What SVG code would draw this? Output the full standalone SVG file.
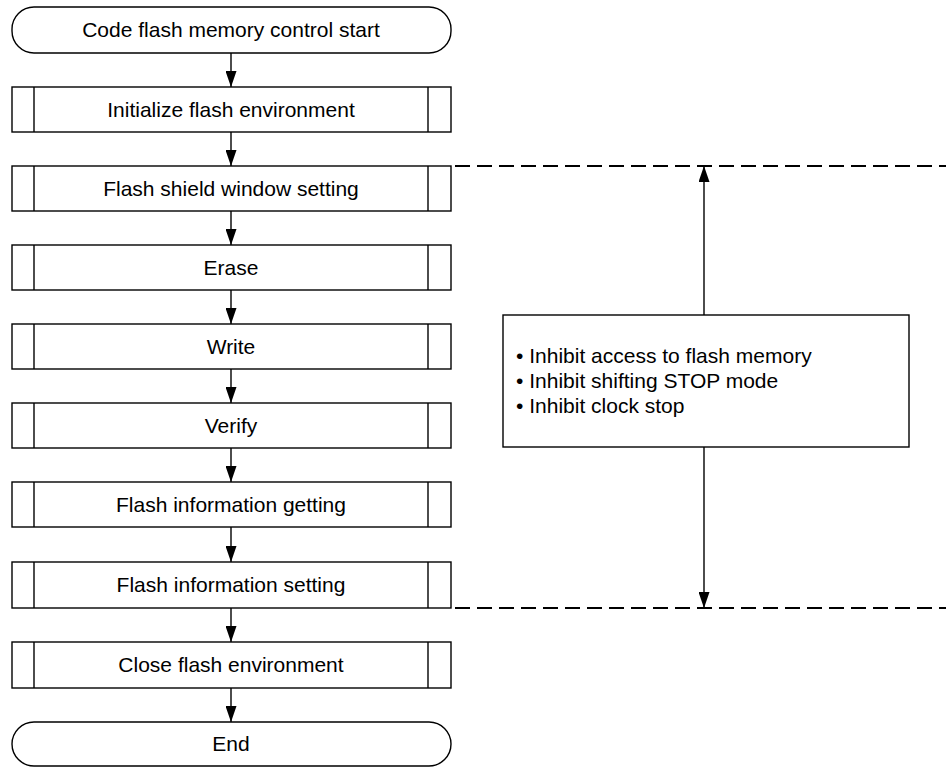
<svg xmlns="http://www.w3.org/2000/svg" width="946" height="767" viewBox="0 0 946 767">
<style>
.s{fill:#fff;stroke:#000;stroke-width:1.4}
.t{font-family:"Liberation Sans",Arial,sans-serif;font-size:21px;fill:#000;text-anchor:middle}
.b{font-family:"Liberation Sans",Arial,sans-serif;font-size:21px;fill:#000}
.c{stroke:#000;stroke-width:1.4;fill:none}
.d{stroke:#000;stroke-width:2;fill:none;stroke-dasharray:15 7}
</style>
<defs>
<marker id="ah" markerWidth="16" markerHeight="11" refX="16" refY="5.5" orient="auto" markerUnits="userSpaceOnUse" viewBox="0 0 16 11">
<path d="M0,0 L16,5.5 L0,11 Z" fill="#000"/>
</marker>
</defs>
<g id="connectors">
<line class="c" x1="231" y1="53" x2="231" y2="87" marker-end="url(#ah)"/>
<line class="c" x1="231" y1="132" x2="231" y2="166" marker-end="url(#ah)"/>
<line class="c" x1="231" y1="211" x2="231" y2="245" marker-end="url(#ah)"/>
<line class="c" x1="231" y1="290" x2="231" y2="324" marker-end="url(#ah)"/>
<line class="c" x1="231" y1="369" x2="231" y2="403" marker-end="url(#ah)"/>
<line class="c" x1="231" y1="448" x2="231" y2="482" marker-end="url(#ah)"/>
<line class="c" x1="231" y1="527" x2="231" y2="562" marker-end="url(#ah)"/>
<line class="c" x1="231" y1="608" x2="231" y2="642" marker-end="url(#ah)"/>
<line class="c" x1="231" y1="688" x2="231" y2="722" marker-end="url(#ah)"/>
<line class="d" x1="455" y1="166" x2="946" y2="166"/>
<line class="d" x1="455" y1="608" x2="946" y2="608"/>
<line class="c" x1="704" y1="315" x2="704" y2="166" marker-end="url(#ah)"/>
<line class="c" x1="704" y1="447" x2="704" y2="608" marker-end="url(#ah)"/>
</g>
<g id="start">
<rect class="s" x="12" y="7" width="439" height="46" rx="22" ry="22"/>
<text class="t" x="231" y="37">Code flash memory control start</text>
</g>
<g id="init">
<rect class="s" x="12" y="87" width="439" height="45"/>
<line class="c" x1="34" y1="87" x2="34" y2="132"/><line class="c" x1="428" y1="87" x2="428" y2="132"/>
<text class="t" x="231" y="117">Initialize flash environment</text>
</g>
<g id="shield">
<rect class="s" x="12" y="166" width="439" height="45"/>
<line class="c" x1="34" y1="166" x2="34" y2="211"/><line class="c" x1="428" y1="166" x2="428" y2="211"/>
<text class="t" x="231" y="196">Flash shield window setting</text>
</g>
<g id="erase">
<rect class="s" x="12" y="245" width="439" height="45"/>
<line class="c" x1="34" y1="245" x2="34" y2="290"/><line class="c" x1="428" y1="245" x2="428" y2="290"/>
<text class="t" x="231" y="275">Erase</text>
</g>
<g id="write">
<rect class="s" x="12" y="324" width="439" height="45"/>
<line class="c" x1="34" y1="324" x2="34" y2="369"/><line class="c" x1="428" y1="324" x2="428" y2="369"/>
<text class="t" x="231" y="354">Write</text>
</g>
<g id="verify">
<rect class="s" x="12" y="403" width="439" height="45"/>
<line class="c" x1="34" y1="403" x2="34" y2="448"/><line class="c" x1="428" y1="403" x2="428" y2="448"/>
<text class="t" x="231" y="433">Verify</text>
</g>
<g id="getinfo">
<rect class="s" x="12" y="482" width="439" height="45"/>
<line class="c" x1="34" y1="482" x2="34" y2="527"/><line class="c" x1="428" y1="482" x2="428" y2="527"/>
<text class="t" x="231" y="512">Flash information getting</text>
</g>
<g id="setinfo">
<rect class="s" x="12" y="562" width="439" height="46"/>
<line class="c" x1="34" y1="562" x2="34" y2="608"/><line class="c" x1="428" y1="562" x2="428" y2="608"/>
<text class="t" x="231" y="592">Flash information setting</text>
</g>
<g id="close">
<rect class="s" x="12" y="642" width="439" height="46"/>
<line class="c" x1="34" y1="642" x2="34" y2="688"/><line class="c" x1="428" y1="642" x2="428" y2="688"/>
<text class="t" x="231" y="672">Close flash environment</text>
</g>
<g id="end">
<rect class="s" x="12" y="722" width="439" height="44" rx="22" ry="22"/>
<text class="t" x="231" y="751">End</text>
</g>
<g id="note">
<rect class="s" x="503" y="315" width="406" height="132"/>
<text class="b" x="516" y="363">• Inhibit access to flash memory</text>
<text class="b" x="516" y="388">• Inhibit shifting STOP mode</text>
<text class="b" x="516" y="413">• Inhibit clock stop</text>
</g>
</svg>
